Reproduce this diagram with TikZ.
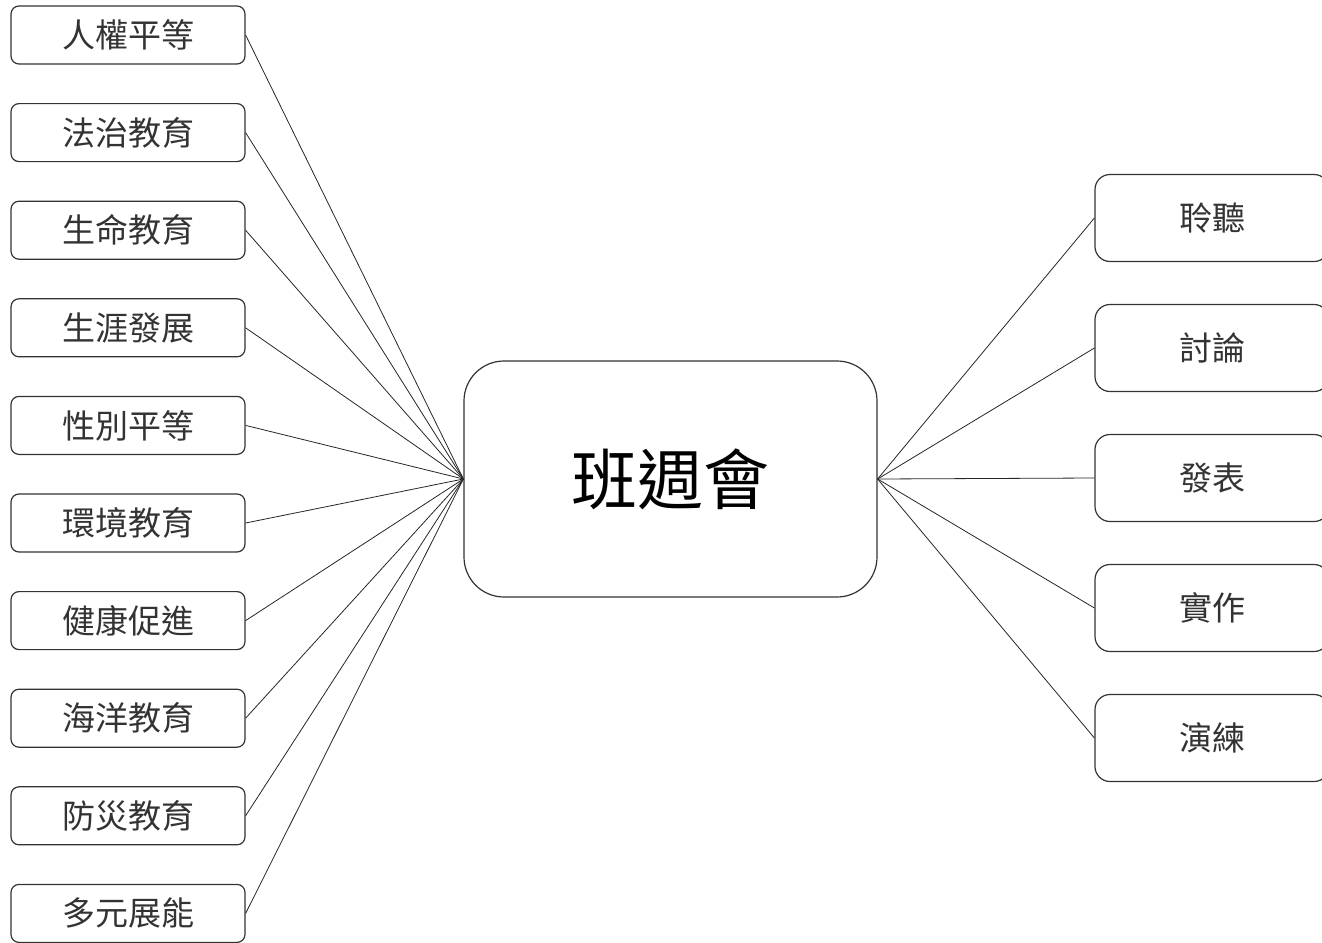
\documentclass[tikz,border=0pt]{standalone}
\usepackage{fontspec}
\newfontfamily\cjk{Noto Sans CJK TC}
\usetikzlibrary{positioning}

\begin{document}
\begin{tikzpicture}
		\tikzstyle{Topic} = [rectangle, rounded corners=8pt, minimum width=234pt, minimum height=58pt, text centered, draw=black!80, line width = 1.2pt, font=\cjk\fontsize{33pt}{36pt}\selectfont, text=black!80]
		\tikzstyle{Way} = [rectangle, rounded corners=15pt, minimum width=234pt, minimum height=87pt, text centered, draw=black!80, line width = 1.2pt, font=\cjk\fontsize{33pt}{36pt}\selectfont, text=black!80]
		\tikzstyle{Hub} = [rectangle, rounded corners=40pt, minimum width=413pt, minimum height=236pt, text centered, draw=black!80, line width = 1.2pt, font=\cjk\fontsize{66pt}{70pt}\selectfont]
		\tikzstyle{link} = [line width=0.8pt, draw=black!85]
		
		\useasboundingbox (0pt,0pt) rectangle (1322pt,-942pt);
		
		\node (hub) [Hub] at (670.5pt,-479pt) {班週會};
		
		\node (t1) [Topic] at (128pt,-35pt) {人權平等};
		\node (t2) [Topic, below = 38.4pt of t1] {法治教育};
		\node (t3) [Topic, below = 38.4pt of t2] {生命教育};
		\node (t4) [Topic, below = 38.4pt of t3] {生涯發展};
		\node (t5) [Topic, below = 38.4pt of t4] {性別平等};
		\node (t6) [Topic, below = 38.4pt of t5] {環境教育};
		\node (t7) [Topic, below = 38.4pt of t6] {健康促進};
		\node (t8) [Topic, below = 38.4pt of t7] {海洋教育};
		\node (t9) [Topic, below = 38.4pt of t8] {防災教育};
		\node (t10) [Topic, below = 38.4pt of t9] {多元展能};
		
		\node (w1) [Way] at (1212pt,-218pt) {聆聽};
		\node (w2) [Way, below = 41.8pt of w1] {討論};
		\node (w3) [Way, below = 41.8pt of w2] {發表};
		\node (w4) [Way, below = 41.8pt of w3] {實作};
		\node (w5) [Way, below = 41.8pt of w4] {演練};
		
		\draw [link] (t1.east) -- (hub.west);
		\draw [link] (t2.east) -- (hub.west);
		\draw [link] (t3.east) -- (hub.west);
		\draw [link] (t4.east) -- (hub.west);
		\draw [link] (t5.east) -- (hub.west);
		\draw [link] (t6.east) -- (hub.west);
		\draw [link] (t7.east) -- (hub.west);
		\draw [link] (t8.east) -- (hub.west);
		\draw [link] (t9.east) -- (hub.west);
		\draw [link] (t10.east) -- (hub.west);
		
		\draw [link] (hub.east) -- (w1.west);
		\draw [link] (hub.east) -- (w2.west);
		\draw [link] (hub.east) -- (w3.west);
		\draw [link] (hub.east) -- (w4.west);
		\draw [link] (hub.east) -- (w5.west);
		
\end{tikzpicture}
\end{document}
